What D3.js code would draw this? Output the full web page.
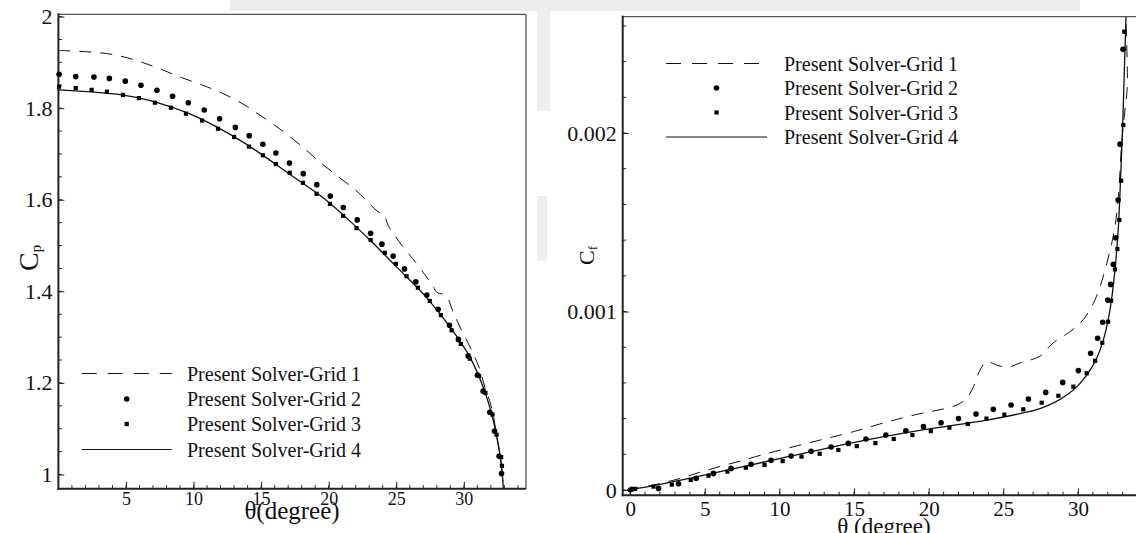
<!DOCTYPE html>
<html><head><meta charset="utf-8">
<script src="https://cdn.jsdelivr.net/npm/d3@7"></script>
<style>html,body{margin:0;padding:0;background:#fff;}svg{display:block;}</style>
</head><body>
<script>
// ---------------- DATA ----------------
const seriesNames = ["Present Solver-Grid 1","Present Solver-Grid 2","Present Solver-Grid 3","Present Solver-Grid 4"];

// Left panel: Cp vs theta
const cpXTicks = [5,10,15,20,25,30];
const cpYTicks = [1,1.2,1.4,1.6,1.8,2];
const cpYTickLabels = ["1","1.2","1.4","1.6","1.8","2"];
const cpGrid1 = [[0,1.926],[3.1,1.921],[4.7,1.913],[6.2,1.900],[7.6,1.885],[9.1,1.867],[10.6,1.851],[12.1,1.833],[13.6,1.810],[15.0,1.783],[16.5,1.752],[18.0,1.717],[19.4,1.681],[20.9,1.646],[22.0,1.621],[22.9,1.595],[23.6,1.575],[24.1,1.566],[24.4,1.544],[25.5,1.497],[26.5,1.461],[27.2,1.433],[27.7,1.412],[28.0,1.398],[28.7,1.390],[29.2,1.355],[29.95,1.308],[30.7,1.264],[31.2,1.228],[31.55,1.191],[31.9,1.162],[32.2,1.126],[32.4,1.090],[32.65,1.046],[32.8,1.017],[32.9,0.985]];
const cpGrid2 = [[0.05,1.874],[1.28,1.869],[2.63,1.868],[3.77,1.865],[4.95,1.859],[6.11,1.850],[7.29,1.839],[8.45,1.826],[9.61,1.812],[10.79,1.796],[11.93,1.777],[13.09,1.758],[14.12,1.740],[15.13,1.721],[16.09,1.702],[17.1,1.680],[18.12,1.657],[19.12,1.633],[20.12,1.608],[21.08,1.583],[22.11,1.556],[23.1,1.527],[23.94,1.503],[24.77,1.477],[25.61,1.449],[26.45,1.421],[27.26,1.392],[28.1,1.361],[28.94,1.326],[29.6,1.295],[30.32,1.259],[31.01,1.217],[31.43,1.182],[31.92,1.136],[32.27,1.095],[32.61,1.040],[32.79,1.002]];
const cpGrid3 = [[0.05,1.847],[1.28,1.844],[2.46,1.840],[3.59,1.836],[4.78,1.829],[5.96,1.822],[7.14,1.812],[8.33,1.801],[9.44,1.788],[10.63,1.773],[11.81,1.755],[13.0,1.737],[14.1,1.716],[15.13,1.697],[16.09,1.678],[17.12,1.659],[18.1,1.637],[19.1,1.613],[20.09,1.591],[21.07,1.565],[22.06,1.538],[23.1,1.512],[24.16,1.484],[24.97,1.460],[25.76,1.433],[26.6,1.408],[27.48,1.379],[28.3,1.348],[29.09,1.315],[29.78,1.285],[30.44,1.253],[31.13,1.215],[31.6,1.178],[32.12,1.131],[32.42,1.087],[32.76,1.038],[32.82,1.019]];
const cpGrid4 = [[0,1.840],[2.2,1.836],[4.68,1.829],[7.14,1.814],[9.6,1.789],[12.08,1.753],[14.54,1.709],[17.0,1.658],[19.47,1.607],[21.07,1.567],[23.05,1.512],[25.0,1.454],[27.2,1.388],[28.96,1.323],[30.44,1.257],[31.43,1.191],[32.17,1.119],[32.66,1.046],[32.85,1.0],[32.92,0.969]];

// Right panel: Cf vs theta
const cfXTicks = [0,5,10,15,20,25,30];
const cfYTicks = [0,0.001,0.002];
const cfYTickLabels = ["0","0.001","0.002"];
const cfGrid1 = [[-0.2,0],[0,0.000003],[1.56,0.000028],[3.35,0.000065],[4.69,0.000100],[6.03,0.000132],[7.37,0.000162],[8.71,0.000194],[10.5,0.000233],[12.73,0.00028],[14.96,0.000327],[17.2,0.000381],[19.42,0.000428],[20.76,0.000450],[21.88,0.000476],[22.55,0.000514],[23.0,0.000579],[23.44,0.000672],[23.89,0.000719],[24.56,0.0007],[25.3,0.000688],[26.12,0.000712],[27.46,0.000750],[28.35,0.000825],[29.47,0.000887],[30.36,0.000955],[31.03,0.001046],[31.48,0.001139],[31.93,0.00127],[32.26,0.001382],[32.48,0.001475],[32.71,0.001643],[32.93,0.001942],[33.15,0.002129],[33.3,0.00225],[33.3,0.0024],[33.2,0.00265]];
const cfGrid2 = [[0.11,0.000004],[1.9,0.000009],[3.24,0.000035],[4.42,0.000065],[5.58,0.000093],[6.76,0.000121],[8.1,0.000144],[9.44,0.000166],[10.78,0.00019],[12.12,0.000217],[13.46,0.000241],[14.62,0.000261],[15.8,0.000286],[17.13,0.000308],[18.47,0.000332],[19.65,0.000355],[20.83,0.000377],[22.0,0.000401],[23.17,0.000426],[24.33,0.000452],[25.52,0.000476],[26.68,0.00051],[27.84,0.000547],[28.98,0.000603],[30.03,0.000669],[30.85,0.000766],[31.32,0.00085],[31.66,0.00094],[31.99,0.001064],[32.19,0.001152],[32.37,0.001264],[32.53,0.001413],[32.69,0.001625],[32.82,0.001938],[33.02,0.002469]];
const cfGrid3 = [[0,0],[0.33,0.000006],[1.56,0.000019],[2.79,0.00003],[4.06,0.000056],[5.25,0.00008],[6.52,0.000103],[7.75,0.000125],[9.0,0.00014],[10.22,0.000162],[11.48,0.000187],[12.7,0.000203],[13.95,0.000224],[15.18,0.000246],[16.43,0.000263],[17.66,0.000286],[18.91,0.000308],[20.14,0.00033],[21.39,0.000349],[22.62,0.00037],[23.87,0.0004],[25.07,0.000422],[26.34,0.000452],[27.57,0.000489],[28.69,0.000528],[29.69,0.000579],[30.59,0.000654],[31.15,0.000724],[31.63,0.000825],[32.02,0.000943],[32.22,0.00106],[32.48,0.001236],[32.64,0.00135],[32.77,0.001513],[32.89,0.001733],[33.04,0.002045],[33.11,0.002568]];
const cfGrid4 = [[-0.2,0],[0,0.000003],[1.56,0.000025],[6.03,0.000103],[10.5,0.000185],[14.96,0.000266],[19.4,0.000334],[23.9,0.000392],[26.1,0.000428],[27.5,0.000458],[28.5,0.000494],[29.3,0.000535],[30.0,0.000585],[30.6,0.000645],[31.2,0.000728],[31.7,0.000840],[32.15,0.001010],[32.48,0.001232],[32.71,0.001475],[32.86,0.001755],[33.0,0.002054],[33.11,0.002353],[33.22,0.00265]];

// ---------------- DRAW ----------------
const W = 1136, H = 533;
const FONT = "'Liberation Serif','Times New Roman',serif";
const svg = d3.select("body").append("svg").attr("width", W).attr("height", H)
  .style("font-family", FONT);
svg.append("rect").attr("width", W).attr("height", H).attr("fill", "#fff");

// faint watermark behind the panels
const wm = svg.append("g").attr("fill", "#eeeeee");
wm.append("rect").attr("x", 230).attr("y", 0).attr("width", 850).attr("height", 11);
wm.append("rect").attr("x", 537).attr("y", 11).attr("width", 13).attr("height", 100);
wm.append("rect").attr("x", 537).attr("y", 196).attr("width", 10).attr("height", 65);

function panel(cfg) {
  const x = d3.scaleLinear().domain(cfg.xDomain).range(cfg.xRange);
  const y = d3.scaleLinear().domain(cfg.yDomain).range(cfg.yRange);
  const g = svg.append("g");
  const [x0, x1] = cfg.xRange, [y0, y1] = cfg.yRange;
  g.append("rect").attr("x", x0).attr("y", y1).attr("width", x1 - x0).attr("height", y0 - y1).attr("fill", "#fff");

  // minor ticks
  const minor = g.append("g").attr("stroke", "#222").attr("stroke-width", 1);
  cfg.xMinor.filter(v => v >= cfg.xDomain[0] && v <= cfg.xDomain[1]).forEach(v => {
    minor.append("line").attr("x1", x(v)).attr("x2", x(v)).attr("y1", y0).attr("y2", y0 - 3.5);
  });
  cfg.yMinor.forEach(v => {
    minor.append("line").attr("x1", x0).attr("x2", x0 + 3.5).attr("y1", y(v)).attr("y2", y(v));
  });

  // major axes (ticks inward)
  const ax = g.append("g").attr("transform", `translate(0,${y0})`)
    .call(d3.axisBottom(x).tickValues(cfg.xTicks).tickFormat(d3.format("d")).tickSizeInner(-7).tickSizeOuter(0).tickPadding(cfg.xPad));
  ax.select(".domain").remove();
  ax.attr("font-family", FONT);
  ax.selectAll("text").attr("font-size", cfg.xFont).attr("fill", "#111");
  ax.selectAll("line").attr("stroke", "#222");
  const ay = g.append("g").attr("transform", `translate(${x0},0)`)
    .call(d3.axisLeft(y).tickValues(cfg.yTicks).tickFormat((d, i) => cfg.yLabels[i]).tickSizeInner(-6).tickSizeOuter(0).tickPadding(6));
  ay.select(".domain").remove();
  ay.attr("font-family", FONT);
  ay.selectAll("text").attr("font-size", 22).attr("fill", "#111");
  ay.selectAll("line").attr("stroke", "#222");

  // frame
  g.append("line").attr("x1", x0).attr("x2", x1).attr("y1", y1).attr("y2", y1).attr("stroke", "#555").attr("stroke-width", 1.3);
  g.append("line").attr("x1", x1).attr("x2", x1).attr("y1", y1).attr("y2", y0).attr("stroke", "#555").attr("stroke-width", 1.3);
  g.append("line").attr("x1", x0).attr("x2", x0).attr("y1", y1 - 1).attr("y2", y0 + 1).attr("stroke", "#222").attr("stroke-width", 2);
  g.append("line").attr("x1", x0 - 1).attr("x2", x1).attr("y1", y0).attr("y2", y0).attr("stroke", "#222").attr("stroke-width", 2);

  // data
  const line = d3.line().x(d => x(d[0])).y(d => y(d[1])).curve(d3.curveCatmullRom.alpha(0.5));
  g.append("path").datum(cfg.g1).attr("d", line).attr("fill", "none").attr("stroke", "#111")
    .attr("stroke-width", 1).attr("stroke-dasharray", "12,9");
  g.append("path").datum(cfg.g4).attr("d", line).attr("fill", "none").attr("stroke", "#111").attr("stroke-width", 1.3);
  g.append("g").selectAll("circle").data(cfg.g2).join("circle")
    .attr("cx", d => x(d[0])).attr("cy", d => y(d[1])).attr("r", 2.8).attr("fill", "#000");
  g.append("g").selectAll("rect").data(cfg.g3).join("rect")
    .attr("x", d => x(d[0]) - 2.1).attr("y", d => y(d[1]) - 2.1).attr("width", 4.2).attr("height", 4.2).attr("fill", "#000");

  // legend
  const lg = g.append("g");
  cfg.legendRows.forEach((ry, i) => {
    const [lx0, lx1] = cfg.legendLine;
    const cx = (lx0 + lx1) / 2;
    if (i === 0) lg.append("line").attr("x1", lx0).attr("x2", lx1).attr("y1", ry).attr("y2", ry).attr("stroke", "#111").attr("stroke-dasharray", "15,11");
    if (i === 1) lg.append("circle").attr("cx", cx).attr("cy", ry).attr("r", 2.8).attr("fill", "#000");
    if (i === 2) lg.append("rect").attr("x", cx - 2.1).attr("y", ry - 2.1).attr("width", 4.2).attr("height", 4.2).attr("fill", "#000");
    if (i === 3) lg.append("line").attr("x1", lx0).attr("x2", lx1).attr("y1", ry).attr("y2", ry).attr("stroke", "#111").attr("stroke-width", 1.2);
    lg.append("text").attr("x", cfg.legendText).attr("y", ry + 7).attr("font-size", 20).attr("fill", "#111").text(seriesNames[i]);
  });

  // axis titles
  g.append("text").attr("x", cfg.xTitle[0]).attr("y", cfg.xTitle[1]).attr("text-anchor", "middle")
    .attr("font-size", cfg.xTitle[2]).attr("fill", "#111").text(cfg.xTitleText);
  const yt = g.append("text").attr("transform", `translate(${cfg.yTitle[0]},${cfg.yTitle[1]}) rotate(-90)`).attr("fill", "#111");
  yt.append("tspan").attr("font-size", cfg.yTitle[2]).text("C");
  yt.append("tspan").attr("font-size", cfg.yTitle[3]).attr("dy", 3).text(cfg.yTitleSub);
}

panel({
  xDomain: [0, 34.6], xRange: [58.4, 526],
  yDomain: [0.969, 2.005], yRange: [488.7, 14.3],
  xTicks: cpXTicks, yTicks: cpYTicks, yLabels: cpYTickLabels,
  xMinor: d3.range(1, 35, 1), yMinor: d3.range(1, 2.001, 0.05),
  xFont: 18, xPad: 4,
  g1: cpGrid1, g2: cpGrid2, g3: cpGrid3, g4: cpGrid4,
  legendRows: [373.5, 399, 424, 449.5], legendLine: [81.7, 171.7], legendText: 187,
  xTitle: [292, 519, 25], xTitleText: "θ(degree)",
  yTitle: [38, 271, 28, 15], yTitleSub: "p"
});

panel({
  xDomain: [-0.5, 34.6], xRange: [622.7, 1146.6],
  yDomain: [-0.0000297, 0.002652], yRange: [495.3, 16.7],
  xTicks: cfXTicks, yTicks: cfYTicks, yLabels: cfYTickLabels,
  xMinor: d3.range(0, 35, 1), yMinor: d3.range(0, 0.00261, 0.0002),
  xFont: 21, xPad: 6,
  g1: cfGrid1, g2: cfGrid2, g3: cfGrid3, g4: cfGrid4,
  legendRows: [63.5, 88, 112.5, 137], legendLine: [666, 767], legendText: 784,
  xTitle: [884, 534, 23], xTitleText: "θ (degree)",
  yTitle: [594, 265, 22, 13], yTitleSub: "f"
});
</script>
</body></html>
